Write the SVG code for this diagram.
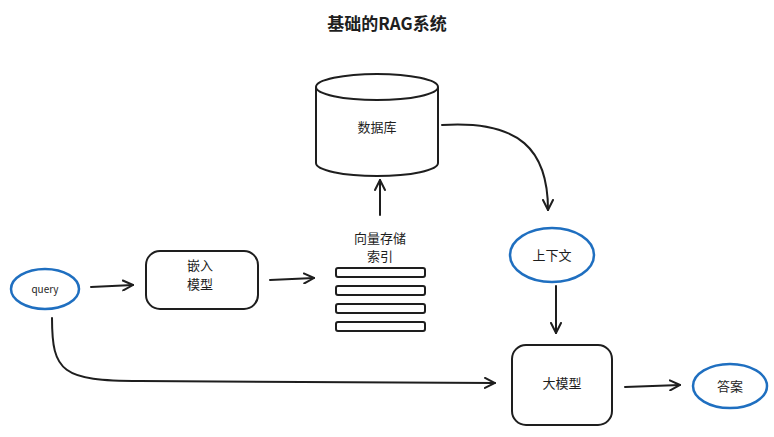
<svg xmlns="http://www.w3.org/2000/svg" width="774" height="437" viewBox="0 0 774 437">
<style>
text{font-family:"Noto Sans CJK SC","Liberation Sans",sans-serif;fill:#1e1e1e;text-anchor:middle}
.s{fill:none;stroke:#1e1e1e;stroke-width:2;stroke-linecap:round}
.w{fill:#fff;stroke:#1e1e1e;stroke-width:2}
.b{fill:#fff;stroke:#1f6fc0;stroke-width:2.5}
.l{font-size:13px}
</style>
<defs><marker id="a" viewBox="0 0 12 12" refX="11" refY="6" markerWidth="12" markerHeight="12" orient="auto" markerUnits="userSpaceOnUse"><path d="M1 1 L11 6 L1 11" fill="none" stroke="#1e1e1e" stroke-width="2" stroke-linecap="round"/></marker></defs>
<rect width="774" height="437" fill="#fff"/>
<text x="387" y="30" style="font-size:17px;font-weight:bold">基础的RAG系统</text>
<g id="db"><path class="w" d="M316 87 V163 A61 13 0 0 0 438 163 V87"/><ellipse class="w" cx="377" cy="87" rx="61" ry="13"/><text class="l" x="377" y="132">数据库</text></g>
<g id="index"><text class="l" x="380" y="243">向量存储</text><text class="l" x="380" y="261">索引</text>
<rect class="w" x="336" y="268" width="89" height="9" rx="2"/><rect class="w" x="336" y="286" width="89" height="9" rx="2"/><rect class="w" x="336" y="304" width="89" height="9" rx="2"/><rect class="w" x="336" y="322" width="89" height="9" rx="2"/></g>
<g id="query"><ellipse class="b" cx="45" cy="289" rx="34" ry="20"/><text x="45" y="293" style="font-size:10px">query</text></g>
<g id="embed"><rect class="w" x="146" y="251" width="112" height="58" rx="14"/><text class="l" x="200" y="270">嵌入</text><text class="l" x="200" y="289">模型</text></g>
<g id="ctx"><ellipse class="b" cx="552" cy="255" rx="42" ry="27"/><text class="l" x="552" y="260">上下文</text></g>
<g id="llm"><rect class="w" x="512" y="345" width="100" height="80" rx="14"/><text class="l" x="562" y="388">大模型</text></g>
<g id="ans"><ellipse class="b" cx="730" cy="386" rx="37" ry="22"/><text class="l" x="730" y="391">答案</text></g>
<g id="connectors">
<path class="s" marker-end="url(#a)" d="M380 215 V180"/>
<path class="s" marker-end="url(#a)" d="M91 287 L133 285"/>
<path class="s" marker-end="url(#a)" d="M270 280 L314 278"/>
<path class="s" marker-end="url(#a)" d="M442 125 C520 120 548 150 548 210"/>
<path class="s" marker-end="url(#a)" d="M556 286 V333"/>
<path class="s" marker-end="url(#a)" d="M625 387 L680 385"/>
<path class="s" marker-end="url(#a)" d="M52 318 C52 372 62 381 140 381 L495 383"/>
</g>
</svg>
